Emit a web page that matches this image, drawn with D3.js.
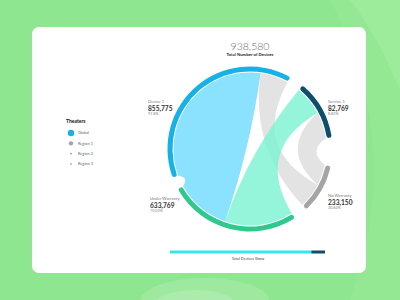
<!DOCTYPE html>
<html><head><meta charset="utf-8">
<script src="https://cdn.jsdelivr.net/npm/d3@7"></script>
<style>html,body{margin:0;padding:0;background:#8fe690;}svg{display:block;font-family:Lato,"Open Sans",sans-serif;}</style>
</head><body>
<svg id="c" width="400" height="300"></svg>
<script>
// ---- data ----
const totalDevices = 938580;
const totalLabel = "Total Number of Devices";
const nodes = ["Device 1", "Service 1", "No Warranty", "Under Warranty"];
const nodeValues = [855775, 82769, 233150, 633769];
const nodePercents = ["91.8%", "8.82%", "30.82%", "70.03%"];
const flowSource = ["Device 1", "Device 1", "Service 1", "Service 1"];
const flowTarget = ["Under Warranty", "No Warranty", "Under Warranty", "No Warranty"];
const flowOutWeight = [118.4, 21.4, 22.5, 20];
const flowInWeight = [42, 19, 52, 16];
const legendTitle = "Theaters";
const legendLabels = ["Global", "Region 1", "Region 2", "Region 3"];
const progressValues = [855775, 82769];
const progressLabel = "Total Devices Show";

// ---- drawing ----
const svg = d3.select("#c");
const rad = d => d * Math.PI / 180;

// background decoration
const bg = svg.append("g");
bg.append("rect").attr("width", 400).attr("height", 300).attr("fill", "#8fe690");
bg.append("path").attr("d", "M330,0 L400,0 L400,300 L350,300 C380,220 390,110 330,0 Z").attr("fill", "#9bec99").attr("opacity", 0.45);
bg.append("path").attr("d", "M350,0 L400,0 L400,90 C385,55 370,25 350,0 Z").attr("fill", "#a6efa3").attr("opacity", 0.5);
bg.append("ellipse").attr("cx", 205).attr("cy", 302).attr("rx", 65).attr("ry", 24).attr("fill", "#ffffff").attr("opacity", 0.14);
bg.append("ellipse").attr("cx", 195).attr("cy", 302).attr("rx", 38).attr("ry", 12).attr("fill", "#ffffff").attr("opacity", 0.14);

// card
svg.append("rect").attr("x", 32).attr("y", 27).attr("width", 334).attr("height", 246).attr("rx", 7)
  .attr("fill", "#ffffff");

// title
svg.append("text").attr("x", 250).attr("y", 50).attr("text-anchor", "middle")
  .attr("font-size", 10.5).attr("font-weight", 300).attr("fill", "#6b6b6b")
  .text(d3.format(",")(totalDevices));
svg.append("text").attr("x", 250).attr("y", 56).attr("text-anchor", "middle")
  .attr("font-size", 4.3).attr("font-weight", 700).attr("fill", "#222")
  .text(totalLabel);

// layout of arcs
const gapsDeg = [10.1, 20, 10, 8.6];
const angle = d3.scaleLinear().domain([0, 360]).range([rad(-110.4), rad(249.6)]);
const flowSrc = [], flowTgt = [], nodeArc = [];
let pos = 0;
nodes.forEach((n, i) => {
  const start = pos;
  let parts;
  if (i < 2) {
    parts = d3.range(flowSource.length).filter(f => flowSource[f] === n);
    parts.forEach(f => { flowSrc[f] = [pos, pos + flowOutWeight[f]]; pos += flowOutWeight[f]; });
  } else {
    parts = d3.range(flowTarget.length).filter(f => flowTarget[f] === n)
      .sort((a, b) => nodes.indexOf(flowSource[b]) - nodes.indexOf(flowSource[a]));
    parts.forEach(f => { flowTgt[f] = [pos, pos + flowInWeight[f]]; pos += flowInWeight[f]; });
  }
  nodeArc[i] = [start, pos];
  pos += gapsDeg[i];
});

const cx = 250, cy = 149, rOut = 82.5, rIn = 77.5, rRib = 76.5;
const g = svg.append("g").attr("transform", `translate(${cx},${cy})`);
const pt = (a, r) => [r * Math.sin(a), -r * Math.cos(a)];

function ribbon(s0, s1, t0, t1, r) {
  const p = d3.path();
  const ctrl = (a, b) => {
    let d = Math.abs(b - a) % (2 * Math.PI);
    if (d > Math.PI) d = 2 * Math.PI - d;
    const f = Math.max(0, 1 - d / (Math.PI / 2)) * 0.97;
    let mid = (a + b) / 2;
    if (Math.abs(b - a) > Math.PI) mid += Math.PI;
    return pt(mid, r * f);
  };
  const P = pt(s0, r);
  p.moveTo(P[0], P[1]);
  p.arc(0, 0, r, s0 - Math.PI / 2, s1 - Math.PI / 2);
  let c = ctrl(s1, t0), T = pt(t0, r);
  p.quadraticCurveTo(c[0], c[1], T[0], T[1]);
  p.arc(0, 0, r, t0 - Math.PI / 2, t1 - Math.PI / 2);
  c = ctrl(t1, s0 + 2 * Math.PI);
  const S = pt(s0, r);
  p.quadraticCurveTo(c[0], c[1], S[0], S[1]);
  p.closePath();
  return p.toString();
}

const flowFill = ["#8be2fe", "#e3e3e3", "#7ef3d2", "#e3e3e3"];
const flowOpacity = [1, 1, 0.82, 1];
const drawOrder = [1, 3, 0, 2];
g.selectAll("path.rib").data(drawOrder).join("path").attr("class", "rib")
  .attr("d", f => ribbon(angle(flowSrc[f][0]), angle(flowSrc[f][1]), angle(flowTgt[f][0]), angle(flowTgt[f][1]), rRib))
  .attr("fill", f => flowFill[f]).attr("fill-opacity", f => flowOpacity[f]);

const nodeColor = ["#16b2e7", "#0c4e6c", "#a5a5a5", "#30c98d"];
const arcGen = d3.arc().innerRadius(rIn).outerRadius(rOut).cornerRadius(2.5);
g.selectAll("path.arc").data(nodes).join("path").attr("class", "arc")
  .attr("d", (d, i) => arcGen({ startAngle: angle(nodeArc[i][0]), endAngle: angle(nodeArc[i][1]) }))
  .attr("fill", (d, i) => nodeColor[i]);

// node labels
const labelPos = [[148, 103], [328, 103], [328, 197], [150, 200]];
nodes.forEach((n, i) => {
  const [x, y] = labelPos[i];
  const t = svg.append("g").attr("transform", `translate(${x},${y})`);
  t.append("text").attr("font-size", 4.2).attr("fill", "#777").text(n);
  t.append("text").attr("y", 7.5).attr("font-size", 6.6).attr("font-weight", 700).attr("fill", "#333")
    .text(d3.format(",")(nodeValues[i]));
  t.append("text").attr("y", 12).attr("font-size", 3.8).attr("fill", "#888").text(nodePercents[i]);
});

// legend
svg.append("text").attr("x", 66).attr("y", 122.5).attr("font-size", 5).attr("font-weight", 700)
  .attr("fill", "#111").text(legendTitle);
const legR = [3.2, 2.2, 0.8, 0.8];
const legC = ["#16b2e7", "#a5a5a5", "#888", "#888"];
const ly = d3.scalePoint().domain(legendLabels).range([133, 164]);
legendLabels.forEach((l, i) => {
  svg.append("circle").attr("cx", 71).attr("cy", ly(l)).attr("r", legR[i]).attr("fill", legC[i]);
  svg.append("text").attr("x", 78).attr("y", ly(l) + 1.4).attr("font-size", 3.9).attr("fill", "#666").text(l);
});

// progress bar
const px = d3.scaleLinear().domain([0, d3.sum(progressValues)]).range([170, 325]);
const progColor = ["#35e6f0", "#0c4e6c"];
let acc = 0;
progressValues.forEach((v, i) => {
  svg.append("rect").attr("x", px(acc)).attr("y", 250.5).attr("width", px(acc + v) - px(acc)).attr("height", 3)
    .attr("fill", progColor[i]);
  acc += v;
});
svg.append("text").attr("x", 248).attr("y", 259.5).attr("text-anchor", "middle").attr("font-size", 3.8)
  .attr("fill", "#444").text(progressLabel);
</script>
</body></html>
